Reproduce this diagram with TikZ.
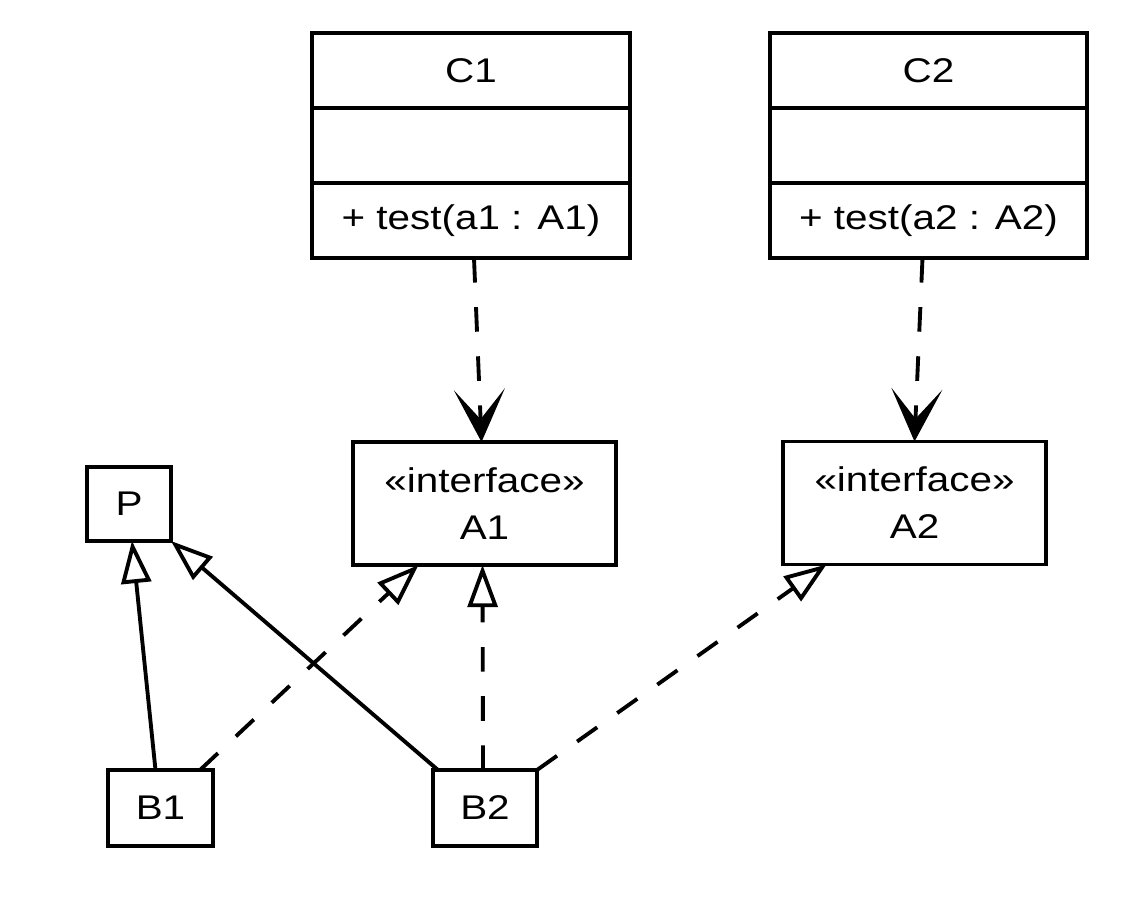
\documentclass[tikz,border=0pt]{standalone}
\usepackage{fontspec}
\setmainfont{Liberation Sans}[FakeStretch=1.18]
\usepackage{tikz}
\usetikzlibrary{positioning}
\usetikzlibrary{arrows.meta}
\tikzset{
    umlbox/.style={
        draw, line width=2.2pt, inner sep=0pt, outer sep=0pt,
        align=center, font=\fontsize{19.5}{26.7}\selectfont
    },
    part/.style={umlbox, minimum width=#1, minimum height=1.5cm},
    part/.default=6.36cm,
    depend/.style={
        line width=2.2pt, dash pattern=on 14pt off 14pt,
        -{Stealth[length=30pt,width=29pt,inset=17pt]}
    },
    realize/.style={
        line width=2.2pt, dash pattern=on 14pt off 14pt,
        -{Triangle[open,length=24pt,width=17pt]}
    },
    inherit/.style={
        line width=2.2pt,
        -{Triangle[open,length=24pt,width=17pt]}
    }
}

\begin{document}
\begin{tikzpicture}[x=0.02cm,y=-0.02cm]
		\useasboundingbox (0,0) rectangle (1138,900);

		% Classes with one operation
		\node[part] (C1name) at (471,70.5) {C1};
		\node[part, below=0pt of C1name] (C1attr) {};
		\node[part, below=0pt of C1attr] (C1ops) {+ test(a1 : A1)};

		\node[part=6.34cm] (C2name) at (928.5,70.5) {C2};
		\node[part=6.34cm, below=0pt of C2name] (C2attr) {};
		\node[part=6.34cm, below=0pt of C2attr] (C2ops) {+ test(a2 : A2)};

		% Interfaces
		\node[umlbox, minimum width=5.26cm, minimum height=2.46cm] (A1) at (484.5,503.5) {«interface»\\A1};
		\node[umlbox, minimum width=5.26cm, minimum height=2.46cm] (A2) at (914.5,503) {«interface»\\A2};

		% Plain classes
		\node[umlbox, minimum width=1.68cm, minimum height=1.48cm] (P) at (129,504) {P};
		\node[umlbox, minimum width=2.1cm, minimum height=1.52cm] (B1) at (160.5,808) {B1};
		\node[umlbox, minimum width=2.08cm, minimum height=1.52cm] (B2) at (485,808) {B2};

		% Usage
		\draw[depend] ([xshift=0.06cm]C1ops.south) -- ([xshift=-0.06cm]A1.north);
		\draw[depend] ([xshift=-0.12cm]C2ops.south) -- (A2.north);

		% Generalization
		\draw[inherit] ([xshift=-0.1cm]B1.north) -- ([xshift=0.06cm]P.south);
		\draw[inherit] ([xshift=0.1cm]B2.north west) -- (P.south east);

		% Realization
		\draw[realize] ([xshift=-0.26cm]B1.north east) -- ([xshift=-1.32cm]A1.south);
		\draw[realize] ([xshift=-0.04cm]B2.north) -- ([xshift=-0.04cm]A1.south);
		\draw[realize] (B2.north east) -- ([xshift=-1.76cm]A2.south);

	\end{tikzpicture}
\end{document}
